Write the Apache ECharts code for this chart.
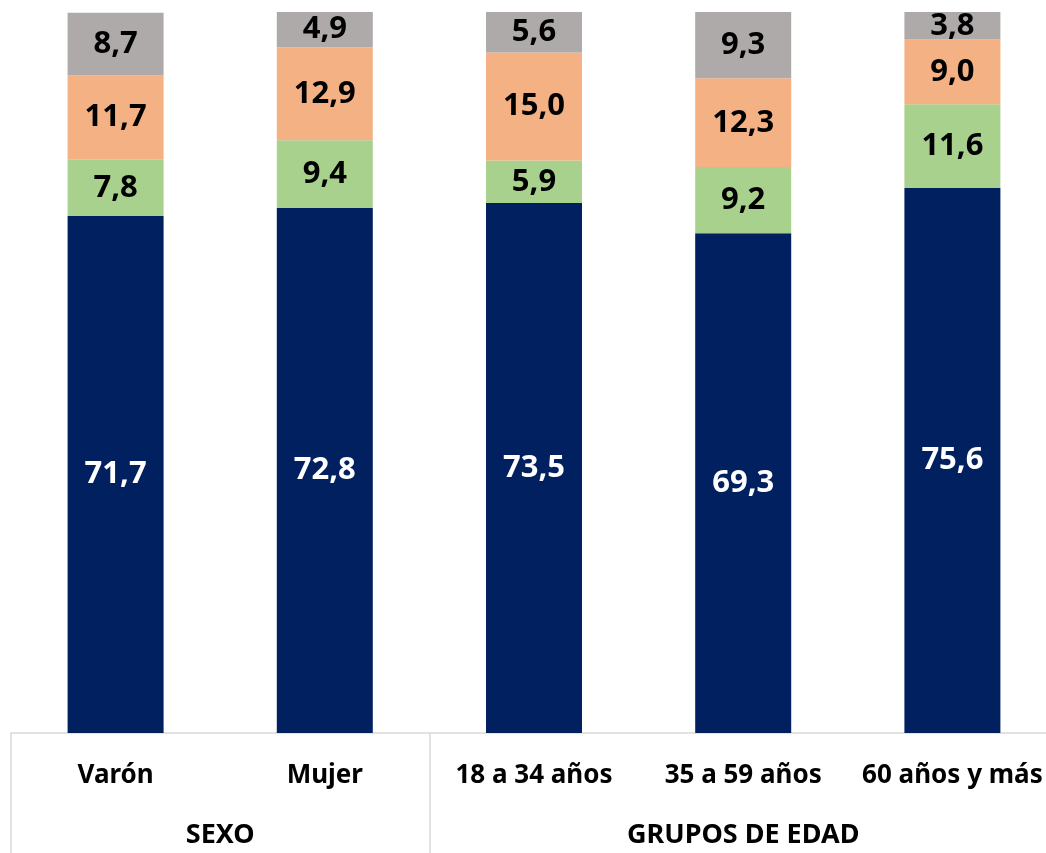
<!DOCTYPE html>
<html>
<head>
<meta charset="utf-8">
<script src="https://cdn.jsdelivr.net/npm/echarts@6/dist/echarts.min.js"></script>
<style>
  html, body { margin: 0; padding: 0; background: #fff; }
  #container { width: 1046px; height: 853px; }
</style>
</head>
<body>
<div id="container"></div>
<script>
// categorias y grupos del eje X
var categories = ['Varón', 'Mujer', '18 a 34 años', '35 a 59 años', '60 años y más'];
var groupNames = ['SEXO', 'GRUPOS DE EDAD'];
var groupSizes = [2, 3];

// valores (%) de abajo hacia arriba
var serie1 = [71.7, 72.8, 73.5, 69.3, 75.6];
var serie2 = [7.8, 9.4, 5.9, 9.2, 11.6];
var serie3 = [11.7, 12.9, 15.0, 12.3, 9.0];
var serie4 = [8.7, 4.9, 5.6, 9.3, 3.8];

var colors = ['#002060', '#A9D18E', '#F4B183', '#AEAAAA'];
var font = '"Noto Sans", sans-serif';

// limites y centros de cada grupo
var bounds = [0];
var centers = [];
groupSizes.forEach(function (n) {
    var start = bounds[bounds.length - 1];
    centers.push(start + n / 2);
    bounds.push(start + n);
});

function fmt(p) {
    return p.value.toFixed(1).replace('.', ',');
}

function makeSeries(name, data, color, labelColor) {
    return {
        name: name,
        type: 'bar',
        stack: 'total',
        barWidth: 96,
        data: data,
        itemStyle: { color: color },
        label: {
            show: true,
            position: 'inside',
            formatter: fmt,
            color: labelColor,
            fontFamily: font,
            fontWeight: 'bold',
            fontSize: 31
        }
    };
}

var chartDom = document.getElementById('container');
var myChart = echarts.init(chartDom);
var option = {
    animation: false,
    grid: {
        left: 11,
        top: 12,
        bottom: 120,
        width: 1046,
        containLabel: false,
        outerBoundsMode: 'none'
    },
    xAxis: [
        {
            type: 'category',
            data: categories,
            axisLine: { show: true, lineStyle: { color: '#d9d9d9', width: 1.5 } },
            axisTick: { show: false },
            axisLabel: {
                interval: 0,
                margin: 30,
                color: '#000',
                fontFamily: font,
                fontWeight: 'bold',
                fontSize: 26
            }
        },
        {
            type: 'value',
            position: 'bottom',
            min: 0,
            max: bounds[bounds.length - 1],
            axisLine: { show: false },
            splitLine: { show: false },
            axisTick: {
                show: true,
                customValues: bounds,
                length: 120,
                lineStyle: { color: '#d9d9d9', width: 1.5 }
            },
            axisLabel: {
                customValues: centers,
                margin: 89,
                color: '#000',
                fontFamily: font,
                fontWeight: 'bold',
                fontSize: 27,
                formatter: function (v) {
                    return groupNames[centers.indexOf(v)] || '';
                }
            }
        }
    ],
    yAxis: {
        type: 'value',
        min: 0,
        max: 100,
        show: false
    },
    series: [
        makeSeries('Serie 1', serie1, colors[0], '#fff'),
        makeSeries('Serie 2', serie2, colors[1], '#000'),
        makeSeries('Serie 3', serie3, colors[2], '#000'),
        makeSeries('Serie 4', serie4, colors[3], '#000')
    ]
};

option && myChart.setOption(option);
</script>
</body>
</html>
